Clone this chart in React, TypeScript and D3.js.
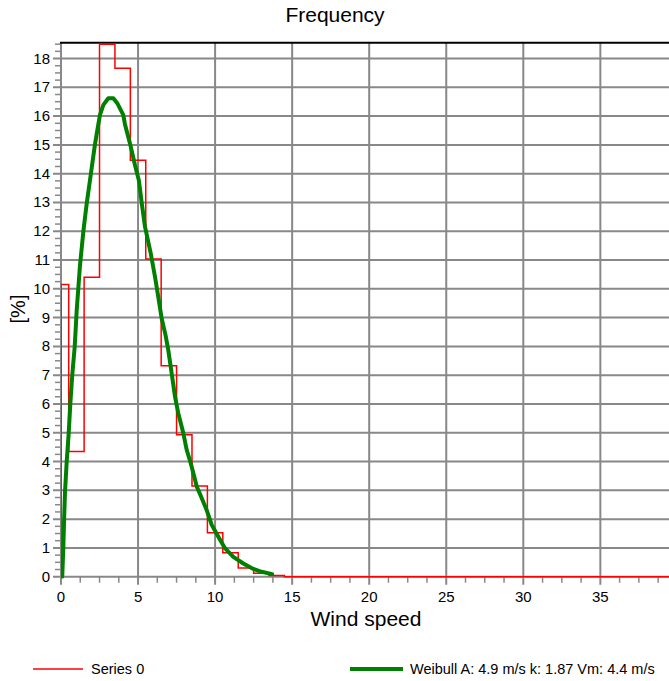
import React from "react";
import * as d3 from "d3";

// Histogram bins (centered on integer wind speeds, width 1 m/s; first bin starts at 0)
const binCenters = [0, 1, 2, 3, 4, 5, 6, 7, 8, 9, 10, 11, 12, 13, 14];
const binFreq = [10.15, 4.35, 10.4, 18.5, 17.66, 14.47, 11.04, 7.33, 4.93, 3.15, 1.53, 0.83, 0.3, 0.12, 0.04];

// Weibull curve
const weibullX = [0.08, 0.15, 0.2, 0.26, 0.37, 0.5, 0.6, 0.73, 0.89, 1.02, 1.23, 1.45, 1.67, 1.93, 2.2, 2.36, 2.53, 2.75, 3.07, 3.4, 3.65, 4.04, 4.15, 4.5, 4.8, 5.06, 5.24, 5.45, 5.82, 6.1, 6.31, 6.53, 6.78, 6.96, 7.18, 7.4, 7.61, 7.94, 8.16, 8.42, 8.59, 8.81, 9.02, 9.45, 9.78, 10.21, 10.64, 11.18, 11.83, 12.48, 13.02, 13.7];
const weibullY = [0, 0.99, 1.97, 2.95, 4.0, 4.98, 5.97, 7.0, 7.99, 9.26, 10.8, 11.99, 12.97, 13.96, 15.0, 15.52, 16.04, 16.39, 16.62, 16.62, 16.45, 16.04, 15.72, 15.0, 14.3, 13.75, 12.97, 12.16, 11.24, 10.42, 9.73, 8.98, 8.4, 7.88, 7.07, 6.25, 5.68, 4.98, 4.4, 3.94, 3.59, 3.13, 2.87, 2.32, 1.8, 1.39, 0.99, 0.69, 0.46, 0.27, 0.17, 0.09];

const xTicks = [0, 5, 10, 15, 20, 25, 30, 35];
const yTicks = [0, 1, 2, 3, 4, 5, 6, 7, 8, 9, 10, 11, 12, 13, 14, 15, 16, 17, 18];

const titleText = "Frequency";
const xLabel = "Wind speed";
const yLabel = "[%]";
const legendSeries = "Series 0";
const legendWeibull = "Weibull A: 4.9 m/s k: 1.87 Vm: 4.4 m/s";

const W = 669;
const H = 681;
const FONT = "'Liberation Sans', Arial, sans-serif";

export default function App() {
  const left = 61;
  const top = 42.7;
  const bottom = 576.7;
  const x = d3.scaleLinear().domain([0, 40]).range([left, left + 616.4]);
  const y = d3.scaleLinear().domain([0, 18.55]).range([bottom, top]);

  // step points
  const stepPts: [number, number][] = [[0, 0]];
  binCenters.forEach((c, i) => {
    stepPts.push([Math.max(0, c - 0.5), binFreq[i]]);
  });
  stepPts.push([binCenters[binCenters.length - 1] + 0.5, 0]);
  stepPts.push([40, 0]);
  const stepLine = d3
    .line<[number, number]>()
    .x((d) => x(d[0]))
    .y((d) => y(d[1]))
    .curve(d3.curveStepAfter);

  const wPts: [number, number][] = weibullX.map((v, i) => [v, weibullY[i]]);
  const wLine = d3
    .line<[number, number]>()
    .x((d) => x(d[0]))
    .y((d) => y(d[1]))
    .curve(d3.curveLinear);

  const minorX = d3.range(0, 40.01, 1.25).filter((v) => Math.abs(v % 5) > 1e-6);
  const minorY = d3.range(0, 18.55, 0.25).filter((v) => Math.abs(v % 1) > 1e-6);
  const gridColor = "#888888";

  return (
    <svg
      width={W}
      height={H}
      style={{ position: "absolute", left: 0, top: 0, background: "#fff" }}
      fontFamily={FONT}
    >
      <defs>
        <clipPath id="plotClip">
          <rect x={left} y={top} width={W - left} height={bottom - top + 2} />
        </clipPath>
      </defs>
      <rect x={0} y={0} width={W} height={H} fill="#fff" />
      <text x={335} y={22} textAnchor="middle" fontSize={21} fill="#000">
        {titleText}
      </text>

      {/* horizontal grid */}
      {yTicks.map((t) => (
        <line key={"hy" + t} x1={left - 8} x2={W} y1={y(t)} y2={y(t)} stroke={gridColor} strokeWidth={2} />
      ))}
      {/* vertical grid */}
      {xTicks.map((t) => (
        <line key={"vx" + t} x1={x(t)} x2={x(t)} y1={top} y2={bottom + 8} stroke={gridColor} strokeWidth={2} />
      ))}
      {/* minor ticks */}
      {minorY.map((t) => (
        <line key={"my" + t} x1={left - 6} x2={left} y1={y(t)} y2={y(t)} stroke={gridColor} strokeWidth={1.5} />
      ))}
      {minorX.map((t) => (
        <line key={"mx" + t} x1={x(t)} x2={x(t)} y1={bottom} y2={bottom + 6} stroke={gridColor} strokeWidth={1.5} />
      ))}
      {/* top border */}
      <line x1={left - 1} x2={W} y1={top} y2={top} stroke="#000" strokeWidth={2} />

      {/* tick labels */}
      {yTicks.map((t) => (
        <text key={"ly" + t} x={50} y={y(t) + 5} textAnchor="end" fontSize={15} fill="#000">
          {t}
        </text>
      ))}
      {xTicks.map((t) => (
        <text key={"lx" + t} x={x(t)} y={602} textAnchor="middle" fontSize={15} fill="#000">
          {t}
        </text>
      ))}

      <g clipPath="url(#plotClip)">
        <path d={stepLine(stepPts) || ""} fill="none" stroke="#ff0000" strokeWidth={1.5} />
        <path
          d={wLine(wPts) || ""}
          fill="none"
          stroke="#008000"
          strokeWidth={4}
          strokeLinejoin="round"
          strokeLinecap="round"
        />
      </g>

      <text x={366} y={626} textAnchor="middle" fontSize={21} fill="#000">
        {xLabel}
      </text>
      <text
        transform={`translate(25,309) rotate(-90)`}
        textAnchor="middle"
        fontSize={20}
        fill="#000"
      >
        {yLabel}
      </text>

      {/* legend */}
      <line x1={33} x2={83} y1={669} y2={669} stroke="#ff0000" strokeWidth={1.5} />
      <text x={91} y={674} fontSize={14.5} fill="#000">
        {legendSeries}
      </text>
      <line x1={350} x2={403} y1={669} y2={669} stroke="#008000" strokeWidth={4} />
      <text x={410} y={674} fontSize={14.5} fill="#000">
        {legendWeibull}
      </text>
    </svg>
  );
}
